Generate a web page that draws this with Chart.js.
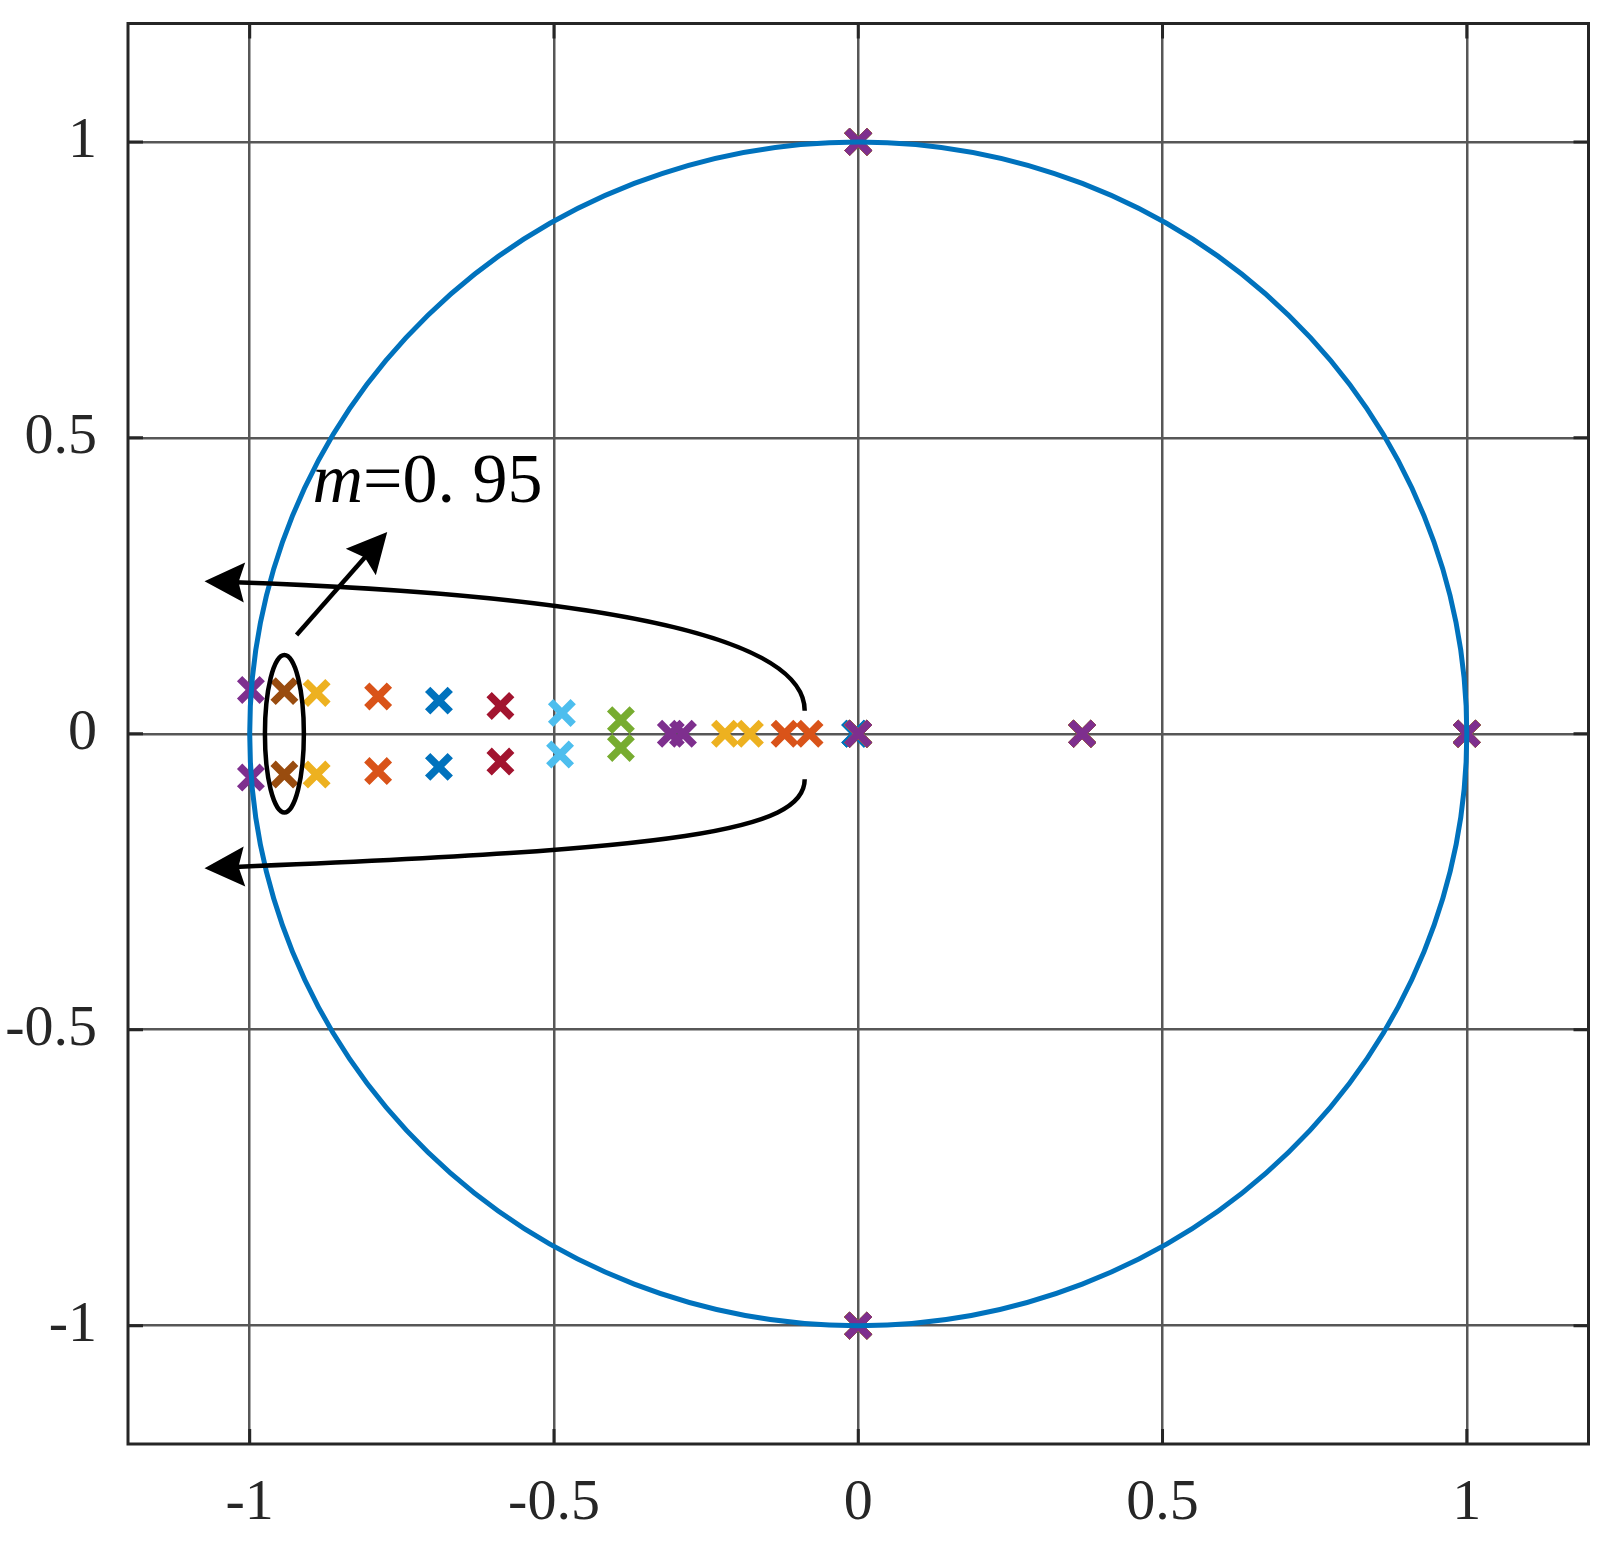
<!DOCTYPE html>
<html>
<head>
<meta charset="utf-8">
<script src="https://cdn.jsdelivr.net/npm/chart.js@4.4.1/dist/chart.umd.min.js"></script>
<style>
html, body { margin: 0; padding: 0; background: #fff; }
</style>
</head>
<body>
<canvas id="myChart" width="1612" height="1547"></canvas>
<script>
// tick values on both axes
const xTicks = [-1, -0.5, 0, 0.5, 1];
const yTicks = [-1, -0.5, 0, 0.5, 1];

// one series per m value
const mLabels = ['m=0', 'm=0.1', 'm=0.2', 'm=0.3', 'm=0.4', 'm=0.5', 'm=0.6', 'm=0.7', 'm=0.8', 'm=0.9', 'm=0.95', 'm=1'];
const seriesColors = ['#0072BD', '#D95319', '#EDB120', '#7E2F8E', '#77AC30', '#4DBEEE', '#A2142F', '#0072BD', '#D95319', '#EDB120', '#994C0F', '#7E2F8E'];

// poles every series has (real, imag)
const sharedRe = [0, 0, 0, 0.368, 1];
const sharedIm = [1, -1, 0, 0, 0];

// the moving pole pair of each series
const pairRe = [[-0.005, -0.005], [-0.08, -0.121], [-0.178, -0.219], [-0.288, -0.308], [-0.39, -0.39], [-0.487, -0.49],
    [-0.588, -0.588], [-0.689, -0.689], [-0.789, -0.789], [-0.89, -0.89], [-0.943, -0.943], [-0.998, -0.998]];
const pairIm = [[0, 0], [0, 0], [0, 0], [0, 0], [0.023, -0.024], [0.035, -0.035],
    [0.047, -0.047], [0.056, -0.056], [0.063, -0.063], [0.069, -0.069], [0.072, -0.069], [0.074, -0.074]];

// annotations, in data units
const circleRadius = 1;
const ringCenter = [-0.943, 0];
const ringRadii = [0.032, 0.133];
const upperCurve = [[-0.088, 0.039], [-0.088, 0.15], [-0.35, 0.232], [-1.025, 0.256]];
const lowerCurve = [[-0.088, -0.077], [-0.088, -0.165], [-0.3, -0.195], [-1.025, -0.225]];
const pointerArrow = [[-0.923, 0.167], [-0.774, 0.341]];
const labelPos = [-0.897, 0.391];

const serif = '"Liberation Serif", "Times New Roman", serif';
const dark = '#262626';


function buildSeries(i) {
    const pts = [];
    for (let k = 0; k < sharedRe.length; k++) {
        pts.push({ x: sharedRe[k], y: sharedIm[k] });
    }
    for (let k = 0; k < pairRe[i].length; k++) {
        pts.push({ x: pairRe[i][k], y: pairIm[i][k] });
    }
    return pts;
}

const datasets = mLabels.map((name, i) => ({
    label: name,
    data: buildSeries(i),
    showLine: false,
    pointStyle: 'crossRot',
    pointRadius: 16,
    pointHoverRadius: 16,
    borderWidth: 7.5,
    pointBorderWidth: 7.5,
    borderColor: seriesColors[i],
    backgroundColor: seriesColors[i],
    order: mLabels.length - i
}));


function arrowHead(ctx, fromX, fromY, tipX, tipY) {
    const dx = tipX - fromX;
    const dy = tipY - fromY;
    const len = Math.hypot(dx, dy);
    const ux = dx / len, uy = dy / len;
    const nx = -uy, ny = ux;
    const L = 40, W = 20, notch = 6;
    ctx.beginPath();
    ctx.moveTo(tipX, tipY);
    ctx.lineTo(tipX - ux * L + nx * W, tipY - uy * L + ny * W);
    ctx.lineTo(tipX - ux * (L - notch), tipY - uy * (L - notch));
    ctx.lineTo(tipX - ux * L - nx * W, tipY - uy * L - ny * W);
    ctx.closePath();
    ctx.fill();
}

function drawCurve(ctx, xs, ys, pts) {
    const p = pts.map(q => [xs.getPixelForValue(q[0]), ys.getPixelForValue(q[1])]);
    ctx.beginPath();
    ctx.moveTo(p[0][0], p[0][1]);
    ctx.bezierCurveTo(p[1][0], p[1][1], p[2][0], p[2][1], p[3][0], p[3][1]);
    ctx.stroke();
    // arrow continues along the last tangent
    const dx = p[3][0] - p[2][0], dy = p[3][1] - p[2][1];
    const d = Math.hypot(dx, dy);
    const tipX = p[3][0] + dx / d * 30, tipY = p[3][1] + dy / d * 30;
    arrowHead(ctx, p[3][0], p[3][1], tipX, tipY);
}

const overlay = {
    id: 'overlay',
    afterDatasetsDraw(chart) {
        const ctx = chart.ctx;
        const xs = chart.scales.x, ys = chart.scales.y;
        ctx.save();

        // unit circle
        const cx = xs.getPixelForValue(0), cy = ys.getPixelForValue(0);
        ctx.strokeStyle = '#0072BD';
        ctx.lineWidth = 5;
        ctx.beginPath();
        ctx.ellipse(cx, cy, xs.getPixelForValue(circleRadius) - cx, cy - ys.getPixelForValue(circleRadius), 0, 0, Math.PI * 2);
        ctx.stroke();

        // ring around m=0.95
        ctx.strokeStyle = '#000';
        ctx.fillStyle = '#000';
        ctx.lineWidth = 4.5;
        const rx = xs.getPixelForValue(ringCenter[0]);
        const ry = ys.getPixelForValue(ringCenter[1]);
        ctx.beginPath();
        ctx.ellipse(rx, ry,
            xs.getPixelForValue(ringCenter[0] + ringRadii[0]) - rx,
            ry - ys.getPixelForValue(ringCenter[1] + ringRadii[1]), 0, 0, Math.PI * 2);
        ctx.stroke();

        // trajectory arrows
        drawCurve(ctx, xs, ys, upperCurve);
        drawCurve(ctx, xs, ys, lowerCurve);

        // pointer to the ring
        const ax = xs.getPixelForValue(pointerArrow[0][0]), ay = ys.getPixelForValue(pointerArrow[0][1]);
        const bx = xs.getPixelForValue(pointerArrow[1][0]), by = ys.getPixelForValue(pointerArrow[1][1]);
        const d = Math.hypot(bx - ax, by - ay);
        ctx.beginPath();
        ctx.moveTo(ax, ay);
        ctx.lineTo(bx - (bx - ax) / d * 30, by - (by - ay) / d * 30);
        ctx.stroke();
        arrowHead(ctx, ax, ay, bx, by);

        // label
        const tx = xs.getPixelForValue(labelPos[0]), ty = ys.getPixelForValue(labelPos[1]);
        ctx.textBaseline = 'alphabetic';
        ctx.textAlign = 'left';
        ctx.font = 'italic 70px ' + serif;
        ctx.fillText('m', tx, ty);
        const w = ctx.measureText('m').width;
        ctx.font = '70px ' + serif;
        ctx.fillText('=0. 95', tx + w, ty);

        ctx.restore();
    },
    afterDraw(chart) {
        // box and inward ticks
        const ctx = chart.ctx;
        const a = chart.chartArea;
        const xs = chart.scales.x, ys = chart.scales.y;
        ctx.save();
        ctx.strokeStyle = dark;
        ctx.lineWidth = 3;
        ctx.beginPath();
        for (let v of xTicks) {
            const px = xs.getPixelForValue(v);
            ctx.moveTo(px, a.bottom); ctx.lineTo(px, a.bottom - 15);
            ctx.moveTo(px, a.top); ctx.lineTo(px, a.top + 15);
        }
        for (let v of yTicks) {
            const py = ys.getPixelForValue(v);
            ctx.moveTo(a.left, py); ctx.lineTo(a.left + 15, py);
            ctx.moveTo(a.right, py); ctx.lineTo(a.right - 15, py);
        }
        ctx.stroke();
        ctx.strokeRect(a.left, a.top, a.right - a.left, a.bottom - a.top);
        ctx.restore();
    }
};

const config = {
    type: 'scatter',
    data: { datasets: datasets },
    options: {
        responsive: false,
        animation: false,
        devicePixelRatio: 1,
        layout: { padding: { left: 0, top: 20, right: 13, bottom: 0 } },
        plugins: {
            legend: { display: false },
            tooltip: { enabled: false }
        },
        scales: {
            x: {
                type: 'linear',
                min: -1.2,
                max: 1.2,
                afterBuildTicks: scale => { scale.ticks = xTicks.map(v => ({ value: v })); },
                afterFit: scale => {
                    scale.height = 103;
                    scale.paddingLeft = 0;
                    scale.paddingRight = 0;
                },
                grid: { color: '#575757', lineWidth: 2.5, drawTicks: false },
                border: { display: false },
                ticks: {
                    padding: 25,
                    color: dark,
                    font: { family: serif, size: 58 },
                    maxRotation: 0,
                    callback: v => String(v)
                }
            },
            y: {
                type: 'linear',
                min: -1.2,
                max: 1.2,
                afterBuildTicks: scale => { scale.ticks = yTicks.map(v => ({ value: v })); },
                afterFit: scale => {
                    scale.width = 128;
                    scale.paddingTop = 0;
                    scale.paddingBottom = 0;
                },
                grid: { color: '#575757', lineWidth: 2.5, drawTicks: false },
                border: { display: false },
                ticks: {
                    padding: 31,
                    color: dark,
                    font: { family: serif, size: 58 },
                    callback: v => String(v)
                }
            }
        }
    },
    plugins: [overlay]
};

const myChart = new Chart(document.getElementById('myChart'), config);
</script>
</body>
</html>
